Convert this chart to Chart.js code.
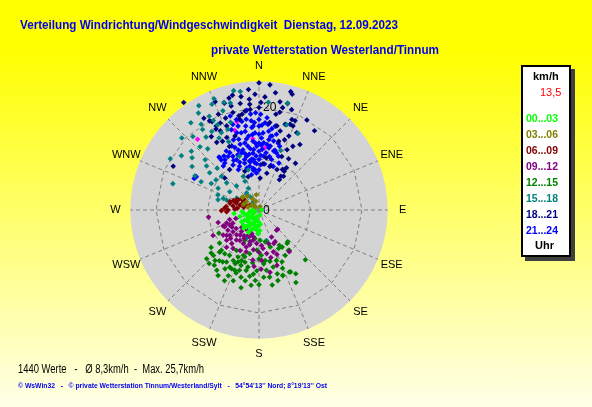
<!DOCTYPE html>
<html lang="de">
<head>
<meta charset="UTF-8">
<title>Windrichtung / Windgeschwindigkeit</title>
<script src="https://cdn.jsdelivr.net/npm/chart.js"></script>
<style>
    body {
        margin: 0;
        width: 592px;
        height: 407px;
        overflow: hidden;
        position: relative;
        background: linear-gradient(#ffff00 12%, #ffffe8 100%);
        font-family: "Liberation Sans", Arial, sans-serif;
    }
    #rose { position: absolute; left: 0; top: 0; }
    .txt { position: absolute; white-space: nowrap; display: inline-block; transform-origin: left center; }
    .titel { font-size: 13px; line-height: 16px; font-weight: bold; color: #0000f0; }
    .fuss1 { font-size: 12px; line-height: 14px; color: #000; }
    .fuss2 { font-size: 8px; line-height: 10px; font-weight: bold; color: #0000f0; }
    #legende {
        position: absolute; left: 521px; top: 65px; width: 50px; height: 192px;
        box-sizing: border-box; background: #fff; border: 2px solid #000;
        box-shadow: 4px 4px 0 #404040;
    }
    .leg { font-size: 11px; line-height: 13px; font-weight: bold; }
</style>
</head>
<body>

<canvas id="rose" width="592" height="407"></canvas>

<!-- Titel -->
<div class="txt titel" style="left:20px; top:17px;" data-w="378">Verteilung Windrichtung/Windgeschwindigkeit&nbsp; Dienstag, 12.09.2023</div>
<div class="txt titel" style="left:211px; top:42px;" data-w="228">private Wetterstation Westerland/Tinnum</div>

<!-- Legende -->
<div id="legende"></div>
<div id="legtexte"></div>

<!-- Fusszeile -->
<div class="txt fuss1" style="left:18px; top:362px;" data-w="186">1440 Werte &nbsp; - &nbsp; Ø 8,3km/h &nbsp;- &nbsp;Max. 25,7km/h</div>
<div class="txt fuss2" style="left:18px; top:381px;" data-w="309">© WsWin32 &nbsp; - &nbsp; © private Wetterstation Tinnum/Westerland/Sylt &nbsp; - &nbsp; 54°54'13'' Nord; 8°19'13'' Ost</div>

<script>
    // Richtungen, Ringe
    const richtungen = ['N', 'NNE', 'NE', 'ENE', 'E', 'ESE', 'SE', 'SSE', 'S', 'SSW', 'SW', 'WSW', 'W', 'WNW', 'NW', 'NNW'];
    const ringe = [10, 20];
    const ringLabelWerte = [0, 20];
    const maxKmh = 25;

    const zeitraeume = ['00...03', '03...06', '06...09', '09...12', '12...15', '15...18', '18...21', '21...24'];
    const aktuell = [[337, 13.5]];

    // [Richtung in Grad, km/h]
    const h00_03 = [[251, 3.9], [258, 3.1], [248, 2.6], [227, 2.4], [240, 1.3], [199, 1.4], [183, 2.3], [195, 3.0], [209, 3.0],
        [222, 3.1], [235, 3.4], [236, 4.1], [169, 1.0], [187, 3.9], [182, 4.6], [197, 3.8], [204, 4.3], [217, 4.1], [226, 4.2],
        [90, 0.5], [247, 0.8], [270, 1.4], [262, 4.9], [190, 3.3], [212, 2.0], [230, 1.8], [175, 2.8], [205, 4.8],
        [215, 3.6], [200, 2.5], [190, 2.0], [220, 4.6], [232, 3.0], [185, 3.2], [178, 4.0], [210, 3.6], [242, 2.5],
        [255, 2.0], [265, 3.3]];

    const h03_06 = [[308, 4.0], [304, 2.9], [304, 1.7], [304, 0.9], [17, 0.7], [240, 1.3], [307, 4.1], [320, 3.5], [330, 2.5],
        [340, 1.8], [285, 2.2], [315, 1.2], [350, 3.0], [210, 2.0], [290, 3.2]];

    const h06_09 = [[276, 6.4], [283, 5.8], [279, 5.1], [287, 4.6], [285, 3.8], [295, 3.4], [288, 2.5], [270, 6.0], [273, 6.7],
        [272, 4.7], [299, 2.0], [296, 4.5], [305, 3.4], [269, 7.3], [286, 5.9], [294, 4.8], [302, 4.0], [267, 6.3], [280, 3.0],
        [290, 5.3], [275, 4.2]];

    const h09_12 = [[262, 9.9], [253, 8.3], [241, 10.2], [244, 7.4], [237, 7.2], [243, 6.4], [243, 5.7], [231, 5.7], [229, 7.5],
        [227, 8.6], [219, 8.4], [217, 7.3], [217, 6.1], [205, 7.2], [199, 7.6], [196, 6.4], [191, 6.0], [184, 6.5], [176, 6.9],
        [174, 7.5], [164, 6.8], [155, 5.8], [139, 5.2], [153, 6.9], [161, 8.6], [170, 8.6], [177, 9.8], [170, 12.3], [162, 11.3],
        [205, 8.7], [214, 9.0], [221, 9.6], [187, 9.8], [197, 8.5], [219, 5.4], [203, 5.3], [197, 4.8], [230, 6.6], [235, 8.5],
        [252, 6.0], [250, 4.8], [248, 6.8], [136, 5.2], [156, 7.1], [144, 10.0],
        [200, 5.5], [210, 5.8], [215, 4.5], [225, 4.8], [222, 6.5], [212, 7.0], [208, 6.2], [195, 7.0], [188, 7.8], [225, 7.8],
        [232, 8.0], [238, 6.2], [246, 7.6], [205, 4.5], [192, 5.3], [180, 8.2], [166, 9.5], [158, 9.3], [185, 11.0], [178, 11.5]];

    const h12_15 = [[227, 13.9], [232, 11.8], [223, 14.2], [219, 13.8], [240, 9.0], [230, 10.0], [223, 10.7], [218, 10.8],
        [213, 10.5], [212, 11.9], [205, 12.6], [206, 15.3], [205, 14.1], [207, 11.0], [204, 10.0], [199, 10.4], [199, 9.3],
        [191, 14.0], [192, 12.0], [191, 11.3], [186, 14.7], [183, 13.7], [183, 7.8], [177, 8.8], [173, 9.9], [173, 11.8],
        [171, 13.2], [166, 11.4], [161, 10.4], [156, 11.0], [150, 10.2], [144, 9.7], [140, 8.5], [153, 8.4], [163, 7.5],
        [169, 6.3], [178, 5.9], [192, 8.7], [209, 9.0], [207, 12.5], [202, 12.6], [223, 11.2], [225, 12.5], [215, 14.3],
        [221, 13.0], [137, 13.2], [153, 15.8], [153, 13.5], [160, 13.6], [164, 12.9], [182, 11.8], [176, 13.1], [198, 12.3],
        [195, 10.5], [202, 10.9], [198, 11.3], [204, 11.4], [188, 5.6], [205, 6.5], [138, 8.3], [150, 14.3], [160, 13.5],
        [154, 13.4], [148, 8.5], [150, 7.9], [143, 9.8],
        [200, 13.0], [195, 13.5], [210, 13.2], [215, 12.3], [188, 13.0], [185, 12.5], [180, 14.5], [193, 15.5], [200, 14.6],
        [170, 14.8], [165, 14.2], [175, 10.5], [168, 10.2], [158, 12.2], [212, 15.0], [218, 12.5], [228, 12.5], [197, 9.5],
        [187, 10.3], [180, 9.5]];

    const h15_18 = [[348, 23.7], [351, 23.3], [338, 23.3], [336, 22.5], [342, 22.0], [330, 23.4], [326, 20.1], [325, 19.1],
        [332, 20.6], [333, 19.5], [334, 18.4], [331, 16.0], [342, 17.9], [339, 16.8], [334, 16.7], [313, 20.5], [311, 17.4],
        [305, 18.4], [300, 19.9], [317, 16.8], [320, 15.5], [313, 14.3], [310, 13.3], [287, 17.5], [298, 14.1], [307, 12.0],
        [299, 10.6], [298, 9.0], [310, 8.2], [302, 6.7], [317, 6.4], [334, 6.2], [334, 4.7], [326, 3.1], [326, 2.0], [293, 3.3],
        [321, 3.8], [288, 7.3], [284, 8.2], [15, 21.5], [27, 16.7], [20, 12.3], [18, 17.4], [5, 21.0], [340, 11.1], [345, 8.1],
        [335, 7.2], [290, 8.5], [287, 6.6], [298, 4.9], [324, 4.1], [204, 6.0], [195, 6.8], [182, 4.6], [166, 6.1],
        [322, 21.5], [328, 22.2], [318, 19.2], [324, 17.5], [329, 17.8], [336, 14.5], [315, 11.5], [305, 10.2], [312, 9.8],
        [296, 12.5], [303, 15.5], [308, 16.5], [340, 20.5], [345, 21.5]];

    const h18_21 = [[0, 24.7], [5, 24.4], [15, 23.8], [16, 23.4], [325, 25.5], [338, 22.7], [342, 21.8], [345, 20.9], [355, 21.6],
        [355, 20.6], [355, 19.6], [1, 20.9], [0, 19.9], [11, 21.4], [15, 21.4], [13, 20.4], [20, 18.7], [22, 18.7], [22, 17.6],
        [20, 17.7], [28, 19.8], [35, 18.8], [26, 16.7], [32, 15.0], [38, 11.5], [33, 9.8], [20, 14.5], [16, 13.9], [12, 16.7],
        [7, 17.1], [36, 8.1], [31, 9.1], [297, 18.7], [332, 17.8], [334, 17.1], [337, 20.2], [331, 19.8], [345, 19.6],
        [348, 18.7], [350, 18.9], [336, 15.4], [335, 13.6], [332, 15.1], [342, 6.8], [340, 8.0], [324, 9.7], [14, 8.7], [5, 9.0],
        [8, 10.2], [348, 18.0], [352, 19.4], [342, 15.1], [339, 17.5], [333, 18.3], [10, 18.9], [12, 19.4], [17, 17.4],
        [15, 15.9], [25, 12.9], [23, 11.3], [24, 8.6], [12, 7.3], [2, 6.2], [30, 9.1], [33, 9.0], [33, 7.8], [34, 7.1],
        [329, 20.8], [332, 19.4], [313, 9.1], [347, 22.9], [351, 22.3],
        [350, 21.0], [358, 22.5], [3, 22.0], [8, 23.0], [18, 20.5], [340, 19.0], [336, 18.5], [327, 17.0], [328, 15.5],
        [22, 15.5], [28, 14.0], [30, 11.5], [355, 23.5], [345, 22.5]];

    const h21_24 = [[355, 18.7], [355, 17.4], [355, 16.1], [355, 14.7], [355, 13.4], [355, 11.8], [354, 9.8], [354, 7.9],
        [0, 17.6], [0, 16.3], [0, 14.7], [0, 13.0], [0, 11.4], [0, 9.8], [0, 7.8],
        [5, 18.0], [6, 16.7], [7, 15.4], [8, 13.8], [9, 12.2], [11, 10.6],
        [11, 16.6], [13, 15.1], [16, 13.5], [14, 11.8], [20, 11.1],
        [343, 19.1], [343, 17.4], [344, 15.6], [344, 14.3], [337, 13.5], [330, 12.0], [324, 11.3], [323, 12.2], [323, 12.7],
        [345, 12.1], [347, 10.7], [343, 9.5], [343, 11.6], [348, 8.7], [355, 9.2], [356, 7.2], [348, 7.0],
        [298, 13.8], [296, 14.0], [17, 11.6], [14, 10.1], [18, 8.9], [23, 9.9], [336, 10.7], [330, 10.1], [323, 12.9], [321, 11.0],
        [333, 12.5], [339, 13.0], [344, 13.3], [348, 13.3], [350, 12.6], [336, 9.3], [344, 10.2], [3, 11.8], [5, 10.5],
        [10, 12.6], [12, 13.7], [10, 14.6], [4, 13.1], [356, 16.3], [351, 16.5], [347, 15.4], [352, 14.5], [331, 13.1],
        [334, 11.6], [326, 11.8], [333, 8.8], [344, 8.5], [354, 11.1], [358, 12.4], [3, 15.0], [358, 18.9], [352, 17.8], [346, 18.1],
        [350, 9.5], [350, 11.0], [350, 14.0], [350, 15.5], [352, 8.2], [352, 10.0], [352, 12.0], [357, 9.0], [357, 10.5],
        [357, 13.0], [357, 15.0], [357, 17.0], [2, 8.8], [2, 10.6], [2, 12.6], [2, 14.0], [2, 16.5], [7, 9.0], [7, 11.2],
        [7, 12.8], [9, 14.5], [9, 16.0], [15, 9.0], [15, 12.0], [18, 13.0], [339, 11.5], [340, 14.5], [341, 16.5], [338, 10.0],
        [333, 10.8], [327, 12.5], [346, 16.8], [349, 17.5], [353, 19.5], [1, 18.6], [4, 17.0], [346, 11.3], [341, 12.3],
        [349, 9.7], [352, 7.8]];

    const stundenMarken = [[346, 17.7], [343, 16.2], [319, 18.2], [355, 13.9], [5, 12.1]];

    const serien = [h00_03, h03_06, h06_09, h09_12, h12_15, h15_18, h18_21, h21_24];
    const farben = ['#00ff00', '#808000', '#800000', '#800080', '#008000', '#008080', '#000080', '#0000ff'];

    const DEG = Math.PI / 180;

    function zuXY(liste) {
        return liste.map(([d, v]) => ({ x: v * Math.sin(d * DEG), y: v * Math.cos(d * DEG) }));
    }

    // Legende als Text
    const legtexte = document.getElementById('legtexte');
    function legZeile(text, left, mitteY, farbe, extra) {
        const el = document.createElement('div');
        el.className = 'txt leg';
        el.textContent = text;
        el.style.left = left + 'px';
        el.style.top = (mitteY - 6.4) + 'px';
        el.style.color = farbe;
        if (extra) Object.assign(el.style, extra);
        legtexte.appendChild(el);
        return el;
    }
    legZeile('km/h', 533, 76, '#000');
    legZeile(aktuell[0][1].toFixed(1).replace('.', ','), 540, 92, '#ff0000', { fontWeight: 'normal' });
    zeitraeume.forEach((z, i) => {
        legZeile(z, 526, 118 + i * 16, farben[i]).dataset.w = 32;
    });
    legZeile('Uhr', 535, 245.5, '#000');

    // Breiten an Vorlage anpassen
    document.querySelectorAll('[data-w]').forEach(el => {
        const w = el.getBoundingClientRect().width;
        el.style.transform = 'scaleX(' + (el.dataset.w / w) + ')';
    });

    // Gitter der Windrose
    const roseGitter = {
        id: 'roseGitter',
        beforeDatasetsDraw(chart) {
            const ctx = chart.ctx;
            const sx = chart.scales.x, sy = chart.scales.y;
            const pos = (d, v) => [sx.getPixelForValue(v * Math.sin(d * DEG)), sy.getPixelForValue(v * Math.cos(d * DEG))];
            const cx = sx.getPixelForValue(0), cy = sy.getPixelForValue(0);
            const rad = sx.getPixelForValue(maxKmh) - cx;
            const schritt = 360 / richtungen.length;

            ctx.save();
            ctx.fillStyle = '#d4d4d4';
            ctx.beginPath();
            ctx.arc(cx, cy, rad, 0, 2 * Math.PI);
            ctx.fill();

            ctx.strokeStyle = '#808080';
            ctx.lineWidth = 1;
            ctx.setLineDash([4, 3]);
            ringe.forEach(r => {
                ctx.beginPath();
                richtungen.forEach((n, i) => {
                    const [x, y] = pos(i * schritt, r);
                    if (i === 0) ctx.moveTo(x, y); else ctx.lineTo(x, y);
                });
                ctx.closePath();
                ctx.stroke();
            });
            richtungen.forEach((n, i) => {
                const [x, y] = pos(i * schritt, maxKmh);
                ctx.beginPath();
                ctx.moveTo(cx, cy);
                ctx.lineTo(x, y);
                ctx.stroke();
            });
            ctx.setLineDash([]);

            ctx.fillStyle = '#000';
            ctx.font = '11px "Liberation Sans", Arial, sans-serif';
            ctx.textAlign = 'center';
            ctx.textBaseline = 'middle';
            richtungen.forEach((n, i) => {
                const [x, y] = pos(i * schritt, 27.9);
                ctx.fillText(n, x, y);
            });

            ctx.textAlign = 'left';
            ctx.font = '12px "Liberation Sans", Arial, sans-serif';
            ringLabelWerte.forEach(w => {
                ctx.fillText(String(w), cx + 4, sy.getPixelForValue(w) + 1);
            });
            ctx.restore();
        }
    };

    const datasets = serien.map((s, i) => ({
        label: zeitraeume[i],
        data: zuXY(s),
        backgroundColor: farben[i],
        pointStyle: 'rectRot',
        pointRadius: 2.8,
        borderWidth: 0
    }));
    datasets.push({
        label: 'Stunde',
        data: zuXY(stundenMarken),
        backgroundColor: '#ff00ff',
        pointStyle: 'rectRot',
        pointRadius: 2.8,
        borderWidth: 0
    });
    datasets.push({
        label: 'aktuell',
        data: zuXY(aktuell),
        backgroundColor: '#ff0000',
        pointStyle: 'triangle',
        pointRadius: 3,
        borderWidth: 0
    });

    new Chart(document.getElementById('rose'), {
        type: 'scatter',
        data: { datasets: datasets },
        options: {
            responsive: false,
            animation: false,
            layout: { padding: { left: 120, top: 71, right: 194, bottom: 58 } },
            scales: {
                x: { type: 'linear', min: -27, max: 27, display: false },
                y: { type: 'linear', min: -27, max: 27, display: false }
            },
            plugins: {
                legend: { display: false },
                tooltip: { enabled: false }
            }
        },
        plugins: [roseGitter]
    });
</script>
</body>
</html>
